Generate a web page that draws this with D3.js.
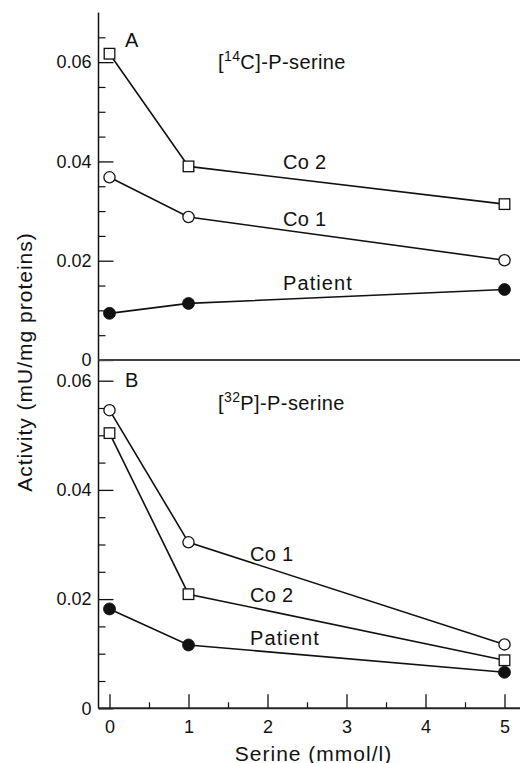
<!DOCTYPE html>
<html>
<head>
<meta charset="utf-8">
<script src="https://cdn.jsdelivr.net/npm/d3@7"></script>
<style>
  html, body { margin: 0; padding: 0; background: #fff; }
  svg { display: block; font-family: "Liberation Sans", Arial, Helvetica, sans-serif; }
</style>
</head>
<body>
<svg id="chart" width="520" height="763"></svg>
<script>
// ---- data ----
const serine = [0, 1, 5];
const xTicks = [0, 1, 2, 3, 4, 5];
const xMinorTicks = [0.5, 1.5, 2.5, 3.5, 4.5];

const panelA_co2     = [0.0617, 0.0390, 0.0314];
const panelA_co1     = [0.0368, 0.0288, 0.0201];
const panelA_patient = [0.0094, 0.0114, 0.0142];

const panelB_co1     = [0.0546, 0.0304, 0.0117];
const panelB_co2     = [0.0504, 0.0209, 0.0088];
const panelB_patient = [0.0182, 0.0116, 0.0066];

const yMajorA = [0, 0.02, 0.04, 0.06];
const yMinorA = [0.005, 0.01, 0.015, 0.025, 0.03, 0.035, 0.045, 0.05, 0.055, 0.065];
const yMajorB = [0, 0.02, 0.04, 0.06];
const yMinorB = [0.005, 0.01, 0.015, 0.025, 0.03, 0.035, 0.045, 0.05, 0.055];

const yLabelFmt = d => d === 0 ? "0" : d3.format(".2f")(d);

// ---- layout ----
const svg = d3.select("#chart");
const axisX = 98.5;
const rightEdge = 520;

const x = d3.scaleLinear().domain([0, 5]).range([109.5, 504.5]);
const yA = d3.scaleLinear().domain([0, 0.07]).range([360, 12.5]);
const yB = d3.scaleLinear().domain([0, 0.06]).range([708.3, 380.7]);

const ink = "#111";

function drawYAxis(scale, major, minor) {
  const gMaj = svg.append("g").attr("transform", `translate(${axisX},0)`)
    .call(d3.axisLeft(scale).tickValues(major).tickSize(-15).tickPadding(7).tickFormat(yLabelFmt));
  gMaj.select(".domain").remove();
  gMaj.selectAll(".tick line").attr("stroke", ink).attr("stroke-width", 1.3);
  gMaj.selectAll(".tick text").attr("fill", ink).attr("font-size", 18)
    .attr("font-family", "'Liberation Sans', Arial, sans-serif");
  const gMin = svg.append("g").attr("transform", `translate(${axisX},0)`)
    .call(d3.axisLeft(scale).tickValues(minor).tickSize(-7).tickFormat(""));
  gMin.select(".domain").remove();
  gMin.selectAll(".tick line").attr("stroke", ink).attr("stroke-width", 1.2);
}

drawYAxis(yA, yMajorA, yMinorA);
drawYAxis(yB, yMajorB, yMinorB);

// vertical axis line (continuous)
svg.append("line").attr("x1", axisX).attr("x2", axisX)
  .attr("y1", yA(0.07)).attr("y2", yB(0))
  .attr("stroke", ink).attr("stroke-width", 1.5);

// panel separator (zero line of A)
svg.append("line").attr("x1", axisX).attr("x2", rightEdge)
  .attr("y1", yA(0)).attr("y2", yA(0))
  .attr("stroke", "#444").attr("stroke-width", 2);

// x axis
const gx = svg.append("g").attr("transform", `translate(0,${yB(0)})`)
  .call(d3.axisBottom(x).tickValues(xTicks).tickSize(-14).tickPadding(12).tickFormat(d3.format("d")));
gx.select(".domain").remove();
gx.selectAll(".tick line").attr("stroke", ink).attr("stroke-width", 1.3);
gx.selectAll(".tick text").attr("fill", ink).attr("font-size", 18)
  .attr("font-family", "'Liberation Sans', Arial, sans-serif");
const gxm = svg.append("g").attr("transform", `translate(0,${yB(0)})`)
  .call(d3.axisBottom(x).tickValues(xMinorTicks).tickSize(-6).tickFormat(""));
gxm.select(".domain").remove();
gxm.selectAll(".tick line").attr("stroke", ink).attr("stroke-width", 1.2);

svg.append("line").attr("x1", axisX).attr("x2", rightEdge)
  .attr("y1", yB(0)).attr("y2", yB(0))
  .attr("stroke", "#222").attr("stroke-width", 2);

// ---- series ----
const line = (yScale) => d3.line().x((d, i) => x(serine[i])).y(d => yScale(d));

function drawSeries(values, yScale, marker) {
  svg.append("path").datum(values)
    .attr("d", line(yScale))
    .attr("fill", "none").attr("stroke", ink).attr("stroke-width", 1.6);
  const g = svg.append("g");
  values.forEach((v, i) => {
    const cx = x(serine[i]), cy = yScale(v);
    if (marker === "square") {
      g.append("rect").attr("x", cx - 5.3).attr("y", cy - 5.3)
        .attr("width", 10.6).attr("height", 10.6)
        .attr("fill", "#fff").attr("stroke", ink).attr("stroke-width", 1.3);
    } else if (marker === "open") {
      g.append("circle").attr("cx", cx).attr("cy", cy).attr("r", 5.6)
        .attr("fill", "#fff").attr("stroke", ink).attr("stroke-width", 1.3);
    } else {
      g.append("circle").attr("cx", cx).attr("cy", cy).attr("r", 6)
        .attr("fill", ink).attr("stroke", ink).attr("stroke-width", 0.8);
    }
  });
}

drawSeries(panelA_co2, yA, "square");
drawSeries(panelA_co1, yA, "open");
drawSeries(panelA_patient, yA, "filled");
drawSeries(panelB_co1, yB, "open");
drawSeries(panelB_co2, yB, "square");
drawSeries(panelB_patient, yB, "filled");

// ---- text ----
function label(txt, tx, ty, size, spacing) {
  return svg.append("text").attr("x", tx).attr("y", ty)
    .attr("font-size", size).attr("fill", ink)
    .attr("letter-spacing", spacing || 0)
    .attr("dominant-baseline", "central")
    .text(txt);
}

label("A", 125, 40, 20);
label("B", 125, 380, 20);

function isoLabel(mass, elem, tx, ty) {
  const t = svg.append("text").attr("x", tx).attr("y", ty + 7)
    .attr("font-size", 20).attr("fill", ink).attr("letter-spacing", 0.4);
  t.append("tspan").text("[");
  t.append("tspan").attr("font-size", 14).attr("dy", -8).text(mass);
  t.append("tspan").attr("dy", 8).text(elem + "]-P-serine");
}
isoLabel("14", "C", 218, 62);
isoLabel("32", "P", 218, 403);

label("Co 2", 283, 162, 20, 0.3);
label("Co 1", 283, 218.5, 20, 0.3);
label("Patient", 283, 283, 20, 1.1);

label("Co 1", 250, 553.5, 20, 0.3);
label("Co 2", 250, 595, 20, 0.3);
label("Patient", 250, 638, 20, 1.1);

// axis titles
svg.append("text")
  .attr("transform", "translate(24,362) rotate(-90)")
  .attr("text-anchor", "middle").attr("dominant-baseline", "central")
  .attr("font-size", 21).attr("letter-spacing", 1).attr("fill", ink)
  .text("Activity (mU/mg proteins)");

svg.append("text")
  .attr("x", 313.5).attr("y", 753)
  .attr("text-anchor", "middle").attr("dominant-baseline", "central")
  .attr("font-size", 21).attr("letter-spacing", 1).attr("fill", ink)
  .text("Serine (mmol/l)");
</script>
</body>
</html>
